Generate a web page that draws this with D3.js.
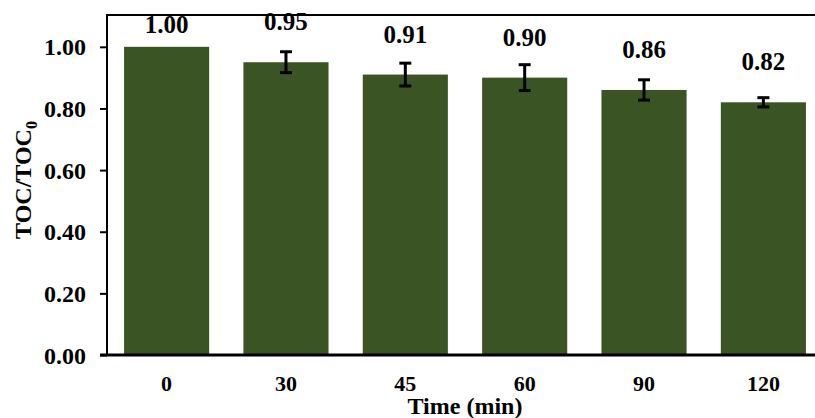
<!DOCTYPE html>
<html>
<head>
<meta charset="utf-8">
<script src="https://cdn.jsdelivr.net/npm/d3@7"></script>
<style>
  body { margin: 0; background: #fff; }
  text { font-family: "Liberation Serif", "Times New Roman", serif; font-weight: bold; fill: #000; }
</style>
</head>
<body>
<svg id="canvas" width="815" height="418"></svg>
<script>
// data
var times = ['0', '30', '45', '60', '90', '120'];
var ratio = [1.00, 0.95, 0.91, 0.90, 0.86, 0.82];
var errs  = [0, 0.034, 0.037, 0.042, 0.033, 0.015];
var yticks = [0, 0.2, 0.4, 0.6, 0.8, 1.0];

var bar_color = '#3a5424';
var svg = d3.select('#canvas');

var x = d3.scaleBand().domain(times).range([107, 823]).paddingInner(0.287).paddingOuter(0.143);
var y = d3.scaleLinear().domain([0, 1.1]).range([355, 16]);

// ************************************************************************************** //
// Bars, error bars and value labels

var rows = times.map(function(t, i){ return { t: t, v: ratio[i], e: errs[i] }; });

svg.append('g').selectAll('rect').data(rows).join('rect')
  .attr('x', function(d){ return x(d.t); })
  .attr('y', function(d){ return y(d.v); })
  .attr('width', x.bandwidth())
  .attr('height', function(d){ return y(0) - y(d.v); })
  .attr('fill', bar_color);

var eb = svg.append('g').attr('stroke', '#000').attr('stroke-width', 3);
rows.filter(function(d){ return d.e > 0; }).forEach(function(d){
  var cx = x(d.t) + x.bandwidth()/2;
  eb.append('line').attr('x1', cx).attr('x2', cx).attr('y1', y(d.v + d.e)).attr('y2', y(d.v - d.e));
  eb.append('line').attr('x1', cx - 6).attr('x2', cx + 6).attr('y1', y(d.v + d.e)).attr('y2', y(d.v + d.e));
  eb.append('line').attr('x1', cx - 6).attr('x2', cx + 6).attr('y1', y(d.v - d.e)).attr('y2', y(d.v - d.e));
});

svg.append('g').selectAll('text').data(rows).join('text')
  .attr('x', function(d){ return x(d.t) + x.bandwidth()/2; })
  .attr('y', function(d){ return y(d.v) - (d.e > 0 ? 32 : 14); })
  .attr('text-anchor', 'middle')
  .style('font-size', '25px')
  .text(function(d){ return d.v.toFixed(2); });

// ************************************************************************************** //
// Axes

var yAxis = svg.append('g').attr('transform', 'translate(107,0)')
  .call(d3.axisLeft(y).tickValues(yticks).tickFormat(d3.format('.2f')).tickSize(7).tickPadding(14));
yAxis.select('.domain').remove();
yAxis.selectAll('line').attr('stroke', '#000').attr('stroke-width', 2);
yAxis.selectAll('text').style('font-size', '24px').attr('dy', '0.34em');

svg.append('line').attr('x1', 107).attr('x2', 107).attr('y1', 15).attr('y2', 356)
  .attr('stroke', '#000').attr('stroke-width', 2);
svg.append('line').attr('x1', 106).attr('x2', 815).attr('y1', 15).attr('y2', 15)
  .attr('stroke', '#000').attr('stroke-width', 2);

var xAxis = svg.append('g').attr('transform', 'translate(0,355)')
  .call(d3.axisBottom(x).tickSize(0).tickPadding(20));
xAxis.select('.domain').remove();
xAxis.selectAll('text').style('font-size', '22px');
svg.append('line').attr('x1', 100).attr('x2', 815).attr('y1', 355).attr('y2', 355)
  .attr('stroke', '#000').attr('stroke-width', 3);

// titles
svg.append('text').attr('x', 465).attr('y', 414).attr('text-anchor', 'middle')
  .style('font-size', '24px').text('Time (min)');

var yt = svg.append('text').attr('transform', 'translate(31,180) rotate(-90)')
  .attr('text-anchor', 'middle').style('font-size', '24px');
yt.append('tspan').text('TOC/TOC');
yt.append('tspan').attr('dy', 6).style('font-size', '16px').text('0');
</script>
</body>
</html>
